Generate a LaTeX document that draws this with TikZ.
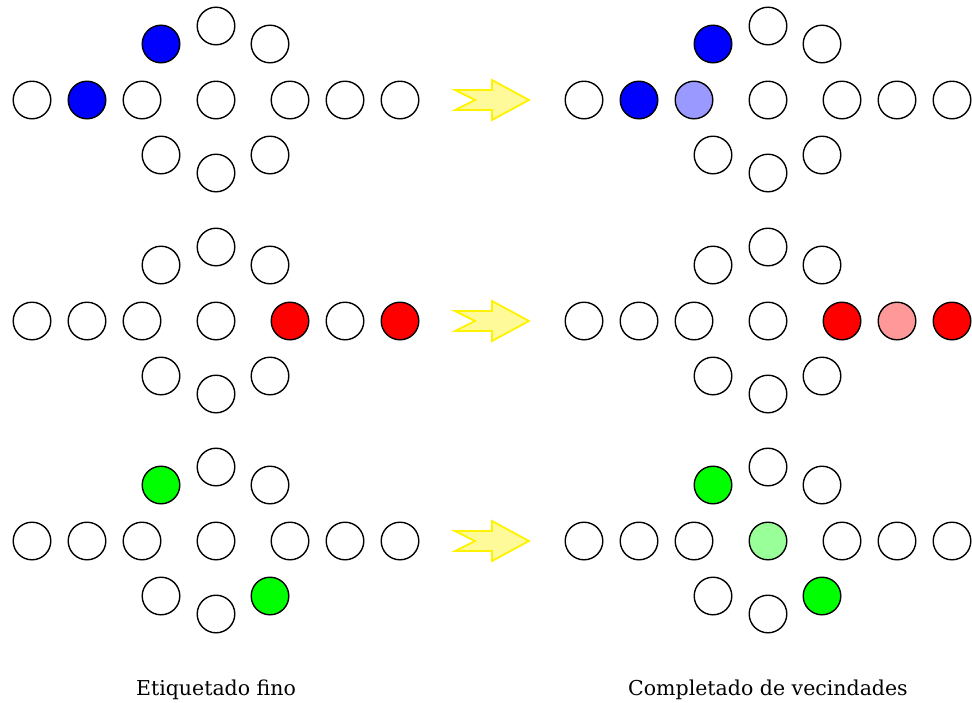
\documentclass[tikz,border=0pt]{standalone}
\usepackage{fontspec}
\setmainfont{DejaVu Serif}
\begin{document}
\begin{tikzpicture}[x=1pt,y=-1pt,
  dot/.style={circle,draw=black,line width=1.4pt,fill=white,minimum size=37.6pt,inner sep=0pt},
  marker/.style={draw=yellow,line width=1.8pt,fill=yellow!40!white,line join=miter},
  caption/.style={font=\fontsize{20.5}{24}\selectfont,anchor=base},
  % coloured positions
  L1b/.style={fill=blue}, L1h/.style={fill=blue},
  R1b/.style={fill=blue}, R1h/.style={fill=blue}, R1c/.style={fill=blue!40!white},
  L2e/.style={fill=red}, L2g/.style={fill=red},
  R2e/.style={fill=red}, R2g/.style={fill=red}, R2f/.style={fill=red!40!white},
  L3h/.style={fill=green}, L3m/.style={fill=green},
  R3h/.style={fill=green}, R3m/.style={fill=green}, R3d/.style={fill=green!40!white}]
\useasboundingbox (0,0) rectangle (972,702);
% one board of 13 holes around centre (#2,#3), node names prefixed by #1
\newcommand\board[3]{%
  \foreach \n/\dx/\dy in {a/-184/0, b/-129/0, c/-74/0, d/0/0, e/74/0, f/129/0, g/184/0,
                          h/-55/-56, i/0/-74, j/54/-56, k/-55/55, l/0/73, m/54/55}
    {\node[dot, #1\n/.try] (#1\n) at (#2+\dx,#3+\dy) {};}%
}
% transition arrow centred vertically on #1
\newcommand\marker[1]{%
  \draw[marker] (455,#1-10) -- (492,#1-10) -- (492,#1-20) -- (529,#1) -- (492,#1+20)
     -- (492,#1+10) -- (455,#1+10) -- (475,#1) -- cycle;}
\board{L1}{216}{100}
\board{R1}{768}{100}
\board{L2}{216}{321}
\board{R2}{768}{321}
\board{L3}{216}{541}
\board{R3}{768}{541}
\marker{100}
\marker{321}
\marker{541}
\node[caption] (capL) at (216,695) {Etiquetado fino};
\node[caption] (capR) at (768,695) {Completado de vecindades};
\end{tikzpicture}
\end{document}
